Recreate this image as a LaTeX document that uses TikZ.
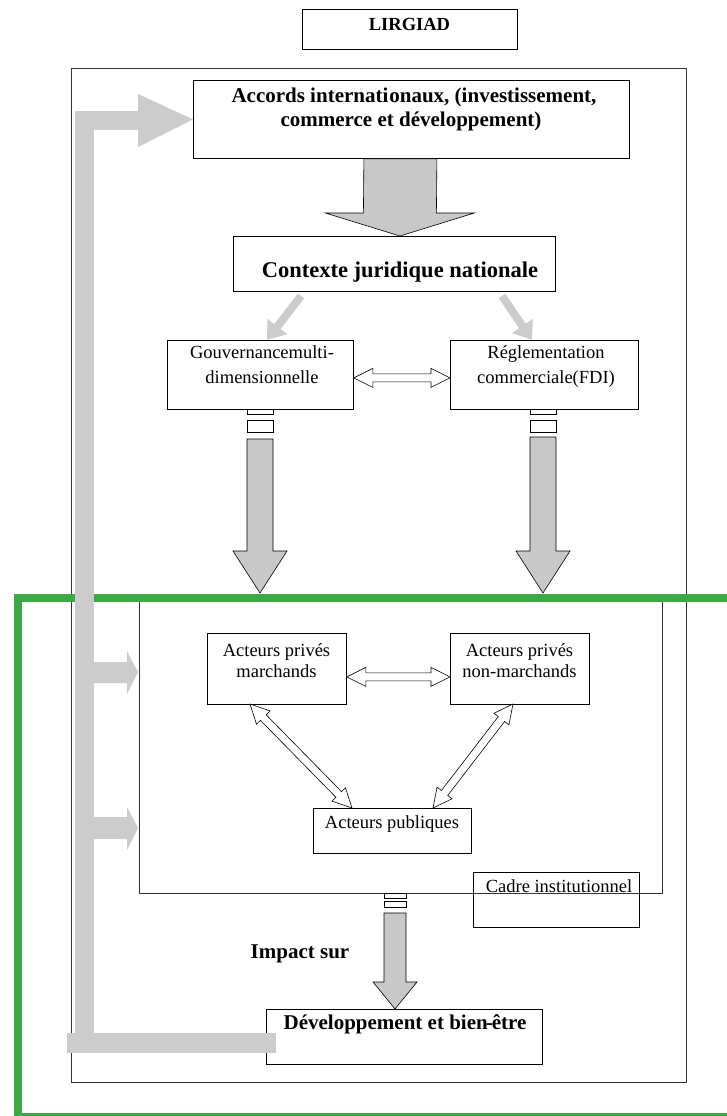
\documentclass[tikz,border=0pt]{standalone}
\usepackage{fontspec}
\setmainfont{Liberation Serif}
\usetikzlibrary{arrows.meta,calc}
\definecolor{blockgray}{RGB}{200,200,200}
\definecolor{fbgray}{RGB}{204,204,204}
\definecolor{frgreen}{RGB}{61,168,69}
\tikzset{
  box/.style={draw=black, line width=0.8pt, fill=white, inner sep=0pt, anchor=north west},
  reg/.style={font=\fontsize{18.5}{21}\selectfont, inner sep=0pt, anchor=base},
  bld/.style={font=\fontsize{21}{25}\selectfont\bfseries, inner sep=0pt, anchor=base},
  blockarrow/.style={draw=black, line width=0.6pt, fill=blockgray, line join=miter},
  hollow/.style={draw=black, line width=0.6pt, fill=white, line join=miter},
  gap/.style={draw=black, line width=0.6pt, fill=white},
  fbarrow/.style={draw=fbgray, line width=8pt, -{Triangle[width=24pt,length=17pt]}},
  fb/.style={fill=fbgray, draw=none},
}
% block arrow: #1 top point, #2 tip, #3 shaft half width, #4 head half width, #5 head length
\newcommand\blockarrow[5]{%
  \filldraw[blockarrow] ($#1+(-#3,0)$) -- ($#1+(#3,0)$) -- ($#2+(#3,-#5)$) -- ($#2+(#4,-#5)$) -- #2
     -- ($#2+(-#4,-#5)$) -- ($#2+(-#3,-#5)$) -- cycle;}
% hollow double arrow between two points
\newcommand\hollowdbl[2]{%
  \path let \p1=#1, \p2=#2 in
    \pgfextra{\pgfmathsetmacro\tmpang{atan2(\y2-\y1,\x2-\x1)}\global\let\hdang\tmpang
              \pgfmathsetmacro\tmplen{veclen(\x2-\x1,\y2-\y1)}\global\let\hdlen\tmplen};
  \begin{scope}[shift={#1}, rotate=\hdang]
    \filldraw[hollow] (0pt,0pt) -- (19pt,9.5pt) -- (19pt,4pt) -- ({\hdlen pt-19pt},4pt)
      -- ({\hdlen pt-19pt},9.5pt) -- (\hdlen pt,0pt) -- ({\hdlen pt-19pt},-9.5pt)
      -- ({\hdlen pt-19pt},-4pt) -- (19pt,-4pt) -- (19pt,-9.5pt) -- cycle;
  \end{scope}}
\begin{document}
\begin{tikzpicture}[x=1pt, y=-1pt]
\useasboundingbox (0,0) rectangle (726,1116);
% outer frame
\node[box, draw=black!80, fill=none, minimum width=615.5pt, minimum height=1014pt] (outer) at (70.5,68) {};
% LIRGIAD
\node[box, minimum width=215pt, minimum height=40pt] (lir) at (302,9) {};
\node[font=\fontsize{18.5}{21}\selectfont\bfseries, inner sep=0pt, anchor=base] (lirT) at (409.5,31) {LIRGIAD};
% Accords
\node[box, minimum width=436pt, minimum height=78pt] (acc) at (193,80) {};
\node[bld] (accT1) at (414,102) {Accords internati\kern1pt onaux, (investissement,};
\node[bld] (accT2) at (411,126) {commerce et développement)};
% Contexte
\node[box, minimum width=322pt, minimum height=55pt] (ctx) at (233,236) {};
\node[bld, font=\fontsize{22.5}{26}\selectfont\bfseries] (ctxT) at (400,277) {Contexte juridique nationale};
% Gouvernance / Réglementation
\node[box, minimum width=186pt, minimum height=69pt] (gouv) at (167,340) {};
\node[reg] (gouvT1) at (262,358) {Gouvernancemulti-};
\node[reg] (gouvT2) at (262,383) {dimensionnelle};
\node[box, minimum width=188pt, minimum height=69pt] (regl) at (450,340) {};
\node[reg] (reglT1) at (546,358) {Réglementation};
\node[reg] (reglT2) at (546,383) {commerciale(FDI)};
% inner frame (cadre institutionnel)
\node[box, draw=black!80, fill=none, minimum width=523pt, minimum height=293pt] (inner) at (139,600) {};
% actors
\node[box, minimum width=139pt, minimum height=71pt] (mar) at (207,633) {};
\node[reg] (marT1) at (276.5,656) {Acteurs privés};
\node[reg] (marT2) at (276.5,677) {marchands};
\node[box, minimum width=139pt, minimum height=71pt] (nmar) at (450,633) {};
\node[reg] (nmarT1) at (519.5,656) {Acteurs privés};
\node[reg] (nmarT2) at (519.5,677) {non-marchands};
\node[box, minimum width=158pt, minimum height=45pt] (pub) at (313,808) {};
\node[reg] (pubT) at (392,828) {Acteurs publiques};
% cadre label box
\node[box, fill=none, minimum width=166pt, minimum height=55pt] (cadre) at (473,872) {};
\node[reg] (cadreT) at (559,892) {Cadre institutionnel};
% impact
\node[bld] (impT) at (300,958) {Impact sur};
% development
\node[box, minimum width=276pt, minimum height=55pt] (dev) at (266,1009) {};
\node[bld] (devT) at (405,1029) {Développement et bien\kern-2pt-\kern-1ptêtre};

% block arrows
\blockarrow{($(acc.south)+(-11,0)$)}{($(ctx.north)+(5.5,0)$)}{36.5}{74.5}{23}
\draw[gap] (247,409) rectangle (273,414);
\draw[gap] (247,420) rectangle (273,432);
\blockarrow{(260,439)}{(260,593)}{13}{27}{42}
\draw[gap] (530,409) rectangle (556,414);
\draw[gap] (530,420) rectangle (556,432);
\blockarrow{(543,437)}{(543,593)}{13}{27}{42}
\draw[gap] (384,893) rectangle (406,898);
\draw[gap] (384,901) rectangle (406,907);
\blockarrow{(395,913)}{(dev.north -| 395,0)}{11}{22}{27}

% light grey arrows from context
\draw[fbarrow] (301,296) -- (267,340);
\draw[fbarrow] (502,296) -- (532,340);

% hollow double arrows
\hollowdbl{($(gouv.east)+(0,3)$)}{($(regl.west)+(0,3)$)}
\hollowdbl{($(mar.east)+(0,8)$)}{($(nmar.west)+(0,8)$)}
\hollowdbl{(250,704)}{(352,808)}
\hollowdbl{(513,704)}{(433,808)}

% green frame
\draw[frgreen, line width=8pt] (18,1117) -- (18,598) -- (740,598);
\draw[frgreen, line width=8pt] (14,1117) -- (740,1117);

% feedback arrows (light grey)
\fill[fb] (75,111) rectangle (94,1053);
\fill[fb] (67,1033) rectangle (276,1053);
\fill[fb] (75,111) -- (138,111) -- (138,94) -- (acc.west) -- (138,147) -- (138,130) -- (75,130) -- cycle;
\fill[fb] (94,662) -- (127,662) -- (127,651) -- (138,672) -- (127,694) -- (127,683) -- (94,683) -- cycle;
\fill[fb] (94,817) -- (127,817) -- (127,807) -- (138,828) -- (127,850) -- (127,839) -- (94,839) -- cycle;
\end{tikzpicture}
\end{document}
